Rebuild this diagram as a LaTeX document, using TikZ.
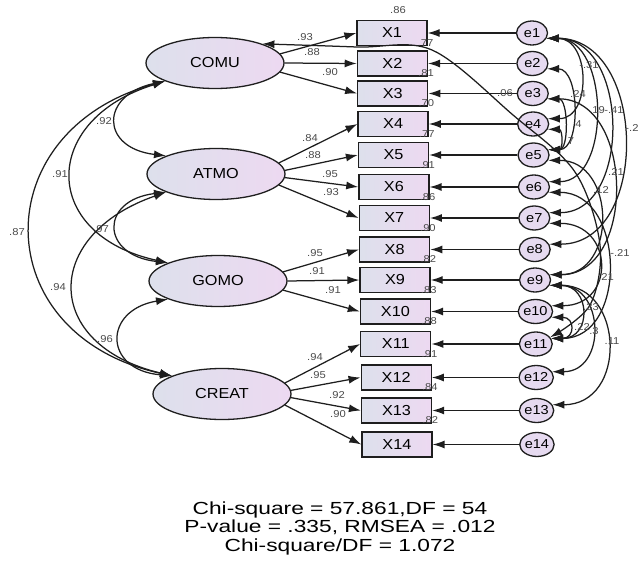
\documentclass[tikz,border=0pt]{standalone}
\usepackage{fontspec}
\setmainfont{Liberation Sans}[FakeStretch=1.12]
\newfontfamily\statfont{Liberation Sans}[FakeStretch=1.3]
\usetikzlibrary{arrows.meta,shapes.geometric}
\definecolor{lineC}{HTML}{1E1E1E}
\definecolor{fillL}{HTML}{DDE0EC}
\definecolor{fillR}{HTML}{EDD9F1}
\definecolor{errC}{HTML}{E6DAF0}
\definecolor{labC}{HTML}{4A4A4A}
\tikzset{
  latent/.style={ellipse, draw=lineC, line width=1.3pt, left color=fillL, right color=fillR,
    minimum width=138pt, minimum height=51pt, inner sep=0pt, font=\fontsize{14.5}{15}\selectfont},
  obs/.style={rectangle, draw=lineC, line width=1.3pt, left color=fillL, right color=fillR,
    minimum width=70pt, minimum height=25pt, inner sep=0pt, font=\fontsize{14.5}{15}\selectfont},
  err/.style={ellipse, draw=lineC, line width=1.3pt, fill=errC,
    minimum width=31pt, minimum height=24pt, inner sep=0pt, font=\fontsize{13}{13}\selectfont},
  ld/.style={-{Latex[length=12pt,width=8pt]}, line width=1.25pt, draw=lineC},
  cov/.style={{Latex[length=12pt,width=8pt]}-{Latex[length=12pt,width=8pt]}, line width=1.25pt, draw=lineC},
  coef/.style={font=\fontsize{10}{10}\selectfont, text=labC, inner sep=0pt}
}
\newcommand{\ecov}[3]{\draw[cov] (e#1.-20) .. controls +(#3,0) and +(#3,0) .. (e#2.20);}
\begin{document}
\begin{tikzpicture}[x=1pt,y=-1pt]
\useasboundingbox (0,0) rectangle (640,567);
\fill[white] (0,0) rectangle (640,567);
% latent variables
\node[latent] (COMU) at (215,63) {COMU};
\node[latent] (ATMO) at (216,174) {ATMO};
\node[latent] (GOMO) at (218,281) {GOMO};
\node[latent] (CREAT) at (222,394) {CREAT};
% observed and errors
\foreach \i/\y in {1/33,2/63.5,3/93.5,4/124,5/155,6/187,7/218,8/249.5,9/280,10/311.5,11/344,12/377.5,13/410.5,14/444.5}{
  \node[obs] (X\i) at ({392+0.38*(\i-1)},\y) {X\i};
  \node[err] (e\i) at ({532+0.38*(\i-1)},\y) {e\i};
  \draw[ld] (e\i.west) -- (X\i.east);
}
% squared multiple correlations
\node[coef] (r1) at (398,10) {.86};
\foreach \i/\v in {1/.77,2/.81,3/.70,4/.77,5/.91,6/.86,7/.90,8/.82,9/.83,10/.88,11/.91,12/.84,13/.82}{
  \node[coef] (r\i b) at ([shift={(-2,10)}]X\i.east) {\v};
}
% loadings
\draw[ld] (COMU.8) -- (X1.west);
\draw[ld] (COMU.0) -- (X2.west);
\draw[ld] (COMU.-8) -- (X3.west);
\draw[ld] (ATMO.10) -- (X4.west);
\draw[ld] (ATMO.3) -- (X5.west);
\draw[ld] (ATMO.-3) -- (X6.west);
\draw[ld] (ATMO.-10) -- (X7.west);
\draw[ld] (GOMO.8) -- (X8.west);
\draw[ld] (GOMO.0) -- (X9.west);
\draw[ld] (GOMO.-8) -- (X10.west);
\draw[ld] (CREAT.10) -- (X11.west);
\draw[ld] (CREAT.3) -- (X12.west);
\draw[ld] (CREAT.-3) -- (X13.west);
\draw[ld] (CREAT.-10) -- (X14.west);
\node[coef] at (305,37) {.93};
\node[coef] at (312,52) {.88};
\node[coef] at (330,72) {.90};
\node[coef] at (310,138) {.84};
\node[coef] at (313,155) {.88};
\node[coef] at (330,174) {.95};
\node[coef] at (331,192) {.93};
\node[coef] at (315,253) {.95};
\node[coef] at (317,271) {.91};
\node[coef] at (333,290) {.91};
\node[coef] at (315,357) {.94};
\node[coef] at (318,375) {.95};
\node[coef] at (337,395) {.92};
\node[coef] at (338,414) {.90};
% latent covariances
\draw[cov] (COMU.200) .. controls (100,95) and (100,148) .. (ATMO.160);
\draw[cov] (COMU.200) .. controls (40,120) and (40,235) .. (GOMO.160);
\draw[cov] (COMU.200) .. controls (-15,130) and (-15,335) .. (CREAT.160);
\draw[cov] (ATMO.200) .. controls (100,200) and (100,255) .. (GOMO.160);
\draw[cov] (ATMO.200) .. controls (42,235) and (42,345) .. (CREAT.160);
\draw[cov] (GOMO.200) .. controls (103,310) and (103,370) .. (CREAT.160);
\node[coef] at (104,121) {.92};
\node[coef] at (60,174) {.91};
\node[coef] at (17,232) {.87};
\node[coef] at (101,229) {.97};
\node[coef] at (58,287) {.94};
\node[coef] at (105,339) {.96};
% long covariance
\draw[cov] plot[smooth, tension=0.55] coordinates {(COMU.22) (357,47) (432,50) (513,115) (575,172) (600,245) (590,305) (e11.25)};
\node[coef] at (505,93) {.06};
% error covariances
\ecov{1}{4}{44}
\ecov{2}{5}{33}
\ecov{1}{6}{63}
\ecov{1}{7}{83}
\ecov{1}{8}{101}
\ecov{3}{5}{21}
\ecov{4}{5}{15}
\ecov{3}{9}{87}
\ecov{5}{9}{68}
\ecov{6}{11}{77}
\ecov{7}{10}{65}
\ecov{9}{11}{41}
\ecov{10}{11}{24}
\ecov{9}{12}{55}
\ecov{9}{13}{75}
\node[coef] at (589,65) {-.31};
\node[coef] at (578,94) {.24};
\node[coef] at (597,110) {.19};
\node[coef] at (614,110) {-.41};
\node[coef] at (632,128) {-.2};
\node[coef] at (577,124) {.4};
\node[coef] at (571,141) {7};
\node[coef] at (616,172) {.21};
\node[coef] at (601,190) {.12};
\node[coef] at (620,253) {-.21};
\node[coef] at (606,277) {.21};
\node[coef] at (591,307) {.33};
\node[coef] at (582,327) {.22};
\node[coef] at (594,331) {.3};
\node[coef] at (612,341) {.11};
% fit statistics
\node[align=center, font=\statfont\fontsize{17.5}{18.5}\selectfont, text=black] (stats) at (340,528)
  {Chi-square = 57.861,DF = 54\\P-value = .335, RMSEA = .012\\Chi-square/DF = 1.072};
\end{tikzpicture}
\end{document}
